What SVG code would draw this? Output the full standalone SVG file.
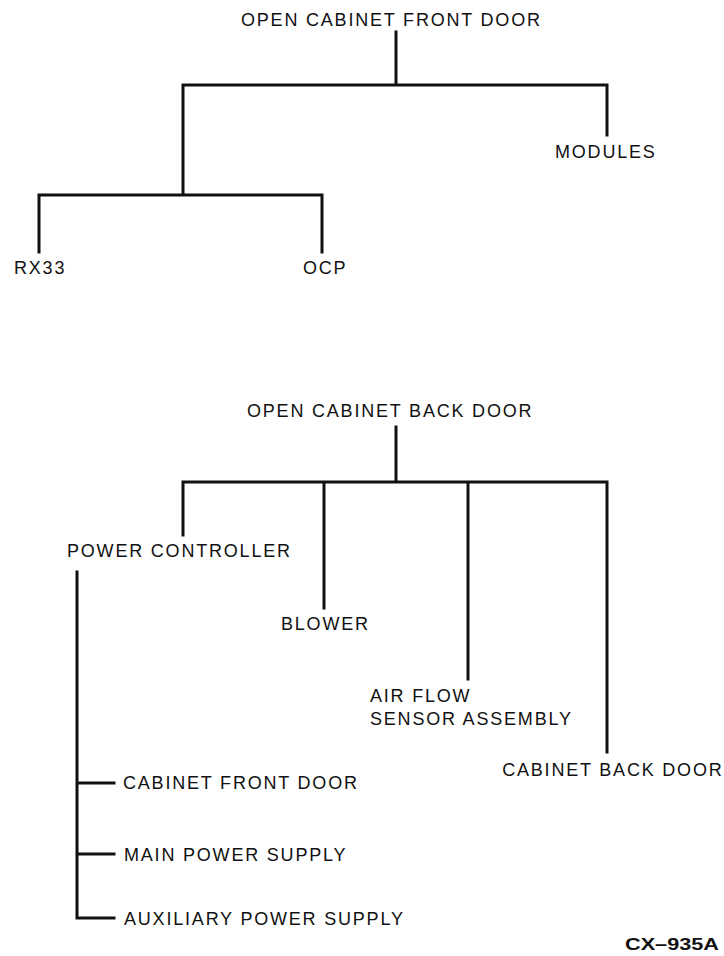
<svg xmlns="http://www.w3.org/2000/svg" width="724" height="956" viewBox="0 0 724 956">
<style>
.t{font-family:"Liberation Sans",Arial,sans-serif;font-size:18px;letter-spacing:1.8px;fill:#111}
.c{fill:none;stroke:#111;stroke-width:3;stroke-linecap:square}
.id{font-family:"Liberation Sans",Arial,sans-serif;font-size:17px;font-weight:bold;fill:#111}
</style>
<rect width="724" height="956" fill="#fff"/>
<g id="connectors">
<path class="c" d="M396 32V85M183 85H607M607 85V135M183 85V195M39 195H322M39 195V252M322 195V252"/>
<path class="c" d="M396 427V482M183 482H607M183 482V535M324 482V608M468 482V679M607 482V752M77 572V918H114M77 783H114M77 854H114"/>
</g>
<g id="open-front"><text class="t" x="241" y="26">OPEN CABINET FRONT DOOR</text></g>
<g id="modules"><text class="t" x="555" y="158">MODULES</text></g>
<g id="rx33"><text class="t" x="14" y="274">RX33</text></g>
<g id="ocp"><text class="t" x="303" y="274">OCP</text></g>
<g id="open-back"><text class="t" x="247" y="417">OPEN CABINET BACK DOOR</text></g>
<g id="power-controller"><text class="t" x="67" y="557">POWER CONTROLLER</text></g>
<g id="blower"><text class="t" x="281" y="630">BLOWER</text></g>
<g id="airflow"><text class="t" x="370" y="702">AIR FLOW</text><text class="t" x="370" y="725">SENSOR ASSEMBLY</text></g>
<g id="cabinet-back"><text class="t" x="723.5" y="776" text-anchor="end">CABINET BACK DOOR</text></g>
<g id="cabinet-front"><text class="t" x="123" y="789">CABINET FRONT DOOR</text></g>
<g id="main-ps"><text class="t" x="124" y="861">MAIN POWER SUPPLY</text></g>
<g id="aux-ps"><text class="t" x="124" y="925">AUXILIARY POWER SUPPLY</text></g>
<g id="figure-id"><text class="id" x="625" y="950" textLength="94" lengthAdjust="spacingAndGlyphs">CX–935A</text></g>
</svg>
